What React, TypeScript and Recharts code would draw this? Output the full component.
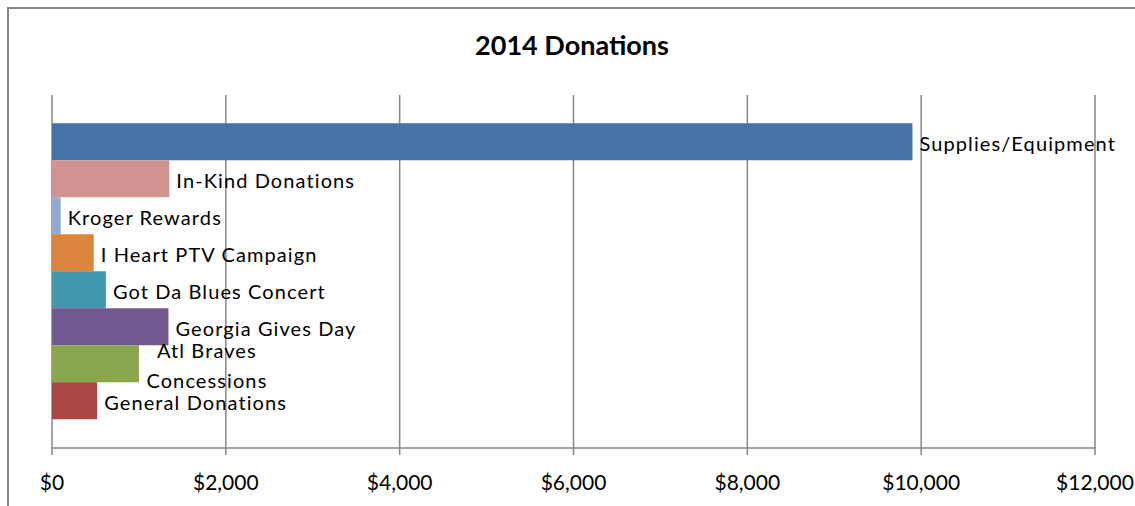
import { BarChart, Bar, XAxis, YAxis, CartesianGrid, LabelList } from 'recharts';

// donation sources, top to bottom
const sources = [
    'Supplies/Equipment',
    'In-Kind Donations',
    'Kroger Rewards',
    'I Heart PTV Campaign',
    'Got Da Blues Concert',
    'Georgia Gives Day',
    'Atl Braves Concessions',
    'General Donations',
];
const amounts = [9900, 1350, 100, 480, 620, 1340, 1000, 520];
const colors = ['#4572A7', '#D19392', '#93A9CF', '#DB843D', '#4198AF', '#71588F', '#89A54E', '#AA4643'];
const xTicks = [0, 2000, 4000, 6000, 8000, 10000, 12000];

const FONT = 'Lato, "Open Sans", sans-serif';

// one category row, one key per source
const row: any = { name: '2014' };
sources.forEach((s, i) => { row['s' + i] = amounts[i]; });
const data = [row];

const fmt = (v: number) => '$' + v.toLocaleString('en-US');

// label right of the bar; long names wrap onto two lines like Excel does
const makeLabel = (text: string) => (props: any) => {
    const { x, y, width, height } = props;
    const cy = y + height / 2;
    const left = x + width + 7;
    if (text.length > 20) {
        const cut = text.lastIndexOf(' ');
        const lines = [text.slice(0, cut), text.slice(cut + 1)];
        const cx = left + 61;
        return (
            <text x={cx} y={cy} textAnchor="middle" fontFamily={FONT} fontSize={20} letterSpacing={1.1} fill="#000">
                <tspan x={cx} y={cy - 14} dominantBaseline="central">{lines[0]}</tspan>
                <tspan x={cx} y={cy + 16} dominantBaseline="central">{lines[1]}</tspan>
            </text>
        );
    }
    return (
        <text x={left} y={cy + 1} dominantBaseline="central" fontFamily={FONT} fontSize={20} letterSpacing={1.1} fill="#000">
            {text}
        </text>
    );
};

export default function App() {
    return (
        <div style={{ position: 'absolute', left: 7, top: 7, width: 1140, height: 510, borderTop: '2px solid #878787', borderLeft: '2px solid #878787', background: '#fff' }}>
            <div style={{ position: 'absolute', left: 0, top: 19, width: 1126, textAlign: 'center', fontFamily: FONT, fontWeight: 700, fontSize: 27, color: '#000' }}>
                2014 Donations
            </div>
            <BarChart
                width={1126}
                height={497}
                data={data}
                layout="vertical"
                margin={{ top: 86, right: 40, left: 43, bottom: 0 }}
                barGap={0}
                barCategoryGap="8%"
            >
                <CartesianGrid horizontal={false} stroke="#878787" strokeWidth={1.5} />
                <XAxis
                    type="number"
                    domain={[0, 12000]}
                    ticks={xTicks}
                    tickFormatter={fmt}
                    stroke="#878787"
                    strokeWidth={1.5}
                    tickSize={7}
                    height={58}
                    interval={0}
                    tick={{ fill: '#000', fontFamily: FONT, fontSize: 21, dy: 18 }}
                />
                <YAxis type="category" dataKey="name" hide />
                {sources.map((s, i) => (
                    <Bar key={s} dataKey={'s' + i} fill={colors[i]} isAnimationActive={false}>
                        <LabelList dataKey={'s' + i} content={makeLabel(s)} />
                    </Bar>
                ))}
            </BarChart>
        </div>
    );
}
